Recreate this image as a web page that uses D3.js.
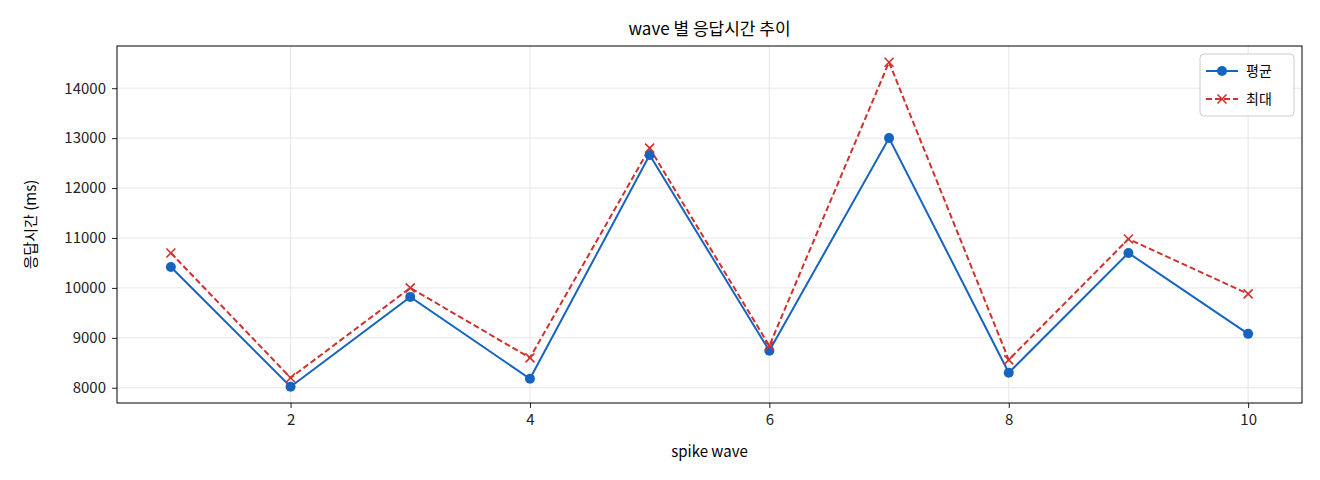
<!DOCTYPE html>
<html><head><meta charset="utf-8">
<script src="https://cdn.jsdelivr.net/npm/d3@7"></script>
<style>body{margin:0;background:#fff;font-family:"Noto Sans CJK KR","DejaVu Sans",sans-serif}</style>
</head><body><svg id="c" width="1320" height="480"></svg>
<script>
const waves=[1,2,3,4,5,6,7,8,9,10];
const avgVals=[10420,8020,9820,8180,12660,8740,13000,8300,10700,9080];
const maxVals=[10700,8200,10000,8600,12800,8840,14520,8560,10980,9880];
const xTicks=[2,4,6,8,10];
const yTicks=[8000,9000,10000,11000,12000,13000,14000];
const svg=d3.select("#c");
const L=117,R=1302,T=46,B=403;
const x=d3.scaleLinear().domain([0.55,10.45]).range([L,R]);
const y=d3.scaleLinear().domain([7695,14845]).range([B,T]);
const font='"Noto Sans CJK KR","DejaVu Sans",sans-serif';
const g=svg.append("g");
g.selectAll(".gx").data(xTicks).join("line").attr("x1",d=>x(d)).attr("x2",d=>x(d)).attr("y1",T).attr("y2",B).attr("stroke","#e6e6e6");
g.selectAll(".gy").data(yTicks).join("line").attr("y1",d=>y(d)).attr("y2",d=>y(d)).attr("x1",L).attr("x2",R).attr("stroke","#e6e6e6");
const ax=svg.append("g").attr("transform",`translate(0,${B})`).call(d3.axisBottom(x).tickValues(xTicks).tickFormat(d3.format("d")).tickSize(5).tickPadding(6));
const ay=svg.append("g").attr("transform",`translate(${L},0)`).call(d3.axisLeft(y).tickValues(yTicks).tickFormat(d3.format("d")).tickSize(5).tickPadding(6));
[ax,ay].forEach(a=>{a.select(".domain").remove();a.selectAll("text").attr("font-size",15).attr("font-family",font).attr("fill","#222");a.selectAll("line").attr("stroke","#222");});
svg.append("rect").attr("x",L).attr("y",T).attr("width",R-L).attr("height",B-T).attr("fill","none").attr("stroke","#000");
const line=vals=>d3.line().x((d,i)=>x(waves[i])).y(d=>y(d))(vals);
svg.append("path").attr("d",line(maxVals)).attr("fill","none").attr("stroke-width",2).attr("stroke-dasharray","6,3").attr("stroke","#d0312d");
svg.append("path").attr("d",line(avgVals)).attr("fill","none").attr("stroke","#1565c0").attr("stroke-width",2);
svg.selectAll(".m").data(avgVals).join("circle").attr("cx",(d,i)=>x(waves[i])).attr("cy",d=>y(d)).attr("r",5).attr("fill","#1565c0");
const cross=(sel,cx,cy)=>sel.append("path").attr("d",`M${cx-4.5},${cy-4.5}L${cx+4.5},${cy+4.5}M${cx-4.5},${cy+4.5}L${cx+4.5},${cy-4.5}`).attr("stroke","#d0312d").attr("stroke-width",1.6);
maxVals.forEach((d,i)=>cross(svg,x(waves[i]),y(d)));
svg.append("text").attr("x",(L+R)/2).attr("y",35).attr("text-anchor","middle").attr("font-size",17).attr("font-family",font).text("wave 별 응답시간 추이");
svg.append("text").attr("x",(L+R)/2).attr("y",457).attr("text-anchor","middle").attr("font-size",15).attr("font-family",font).text("spike wave");
svg.append("text").attr("transform",`translate(36,${(T+B)/2}) rotate(-90)`).attr("text-anchor","middle").attr("font-size",15).attr("font-family",font).text("응답시간 (ms)");
const lg=svg.append("g");
lg.append("rect").attr("x",1200).attr("y",54).attr("width",94).attr("height",62).attr("rx",4).attr("fill","#fff").attr("stroke","#ccc");
lg.append("line").attr("x1",1206).attr("x2",1238).attr("y1",71).attr("y2",71).attr("stroke","#1565c0").attr("stroke-width",2);
lg.append("circle").attr("cx",1222).attr("cy",71).attr("r",5).attr("fill","#1565c0");
lg.append("line").attr("x1",1206).attr("x2",1238).attr("y1",99).attr("y2",99).attr("stroke","#d0312d").attr("stroke-width",2).attr("stroke-dasharray","6,3");
cross(lg,1222,99);
lg.append("text").attr("x",1246).attr("y",76).attr("font-size",14).attr("font-family",font).text("평균");
lg.append("text").attr("x",1246).attr("y",104).attr("font-size",14).attr("font-family",font).text("최대");
</script></body></html>
